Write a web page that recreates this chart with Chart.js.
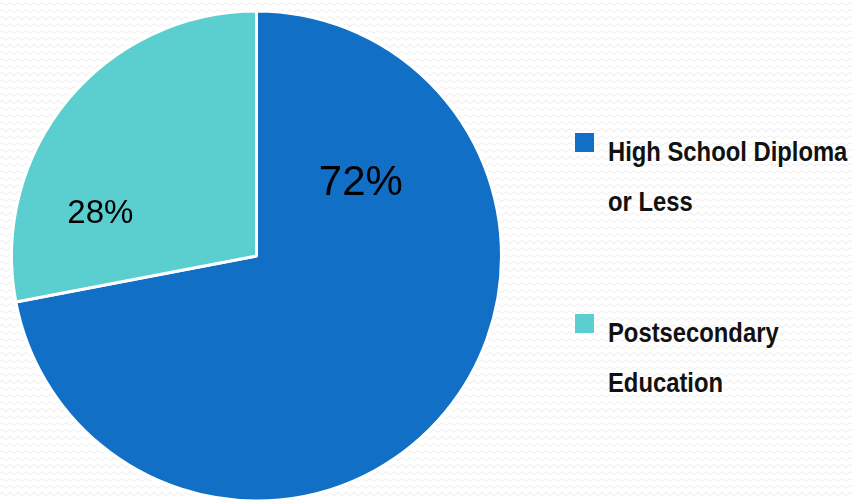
<!DOCTYPE html>
<html>
<head>
<meta charset="utf-8">
<script src="https://cdn.jsdelivr.net/npm/chart.js@4"></script>
<style>
    html, body {
        margin: 0;
        padding: 0;
        width: 852px;
        height: 500px;
        overflow: hidden;
        background-color: #ffffff;
        background-image: url("data:image/svg+xml;utf8,<svg xmlns='http://www.w3.org/2000/svg' width='8' height='7'><path d='M0 4 Q2 1 4 4 T8 4' fill='none' stroke='%23ececec' stroke-width='1'/></svg>");
    }
    .pie-wrap {
        position: absolute;
        left: 0;
        top: -1px;
        width: 513px;
        height: 514px;
    }
    .legend {
        position: absolute;
        left: 575px;
        top: 0;
        margin: 0;
        padding: 0;
        list-style: none;
        font-family: "Liberation Sans", Arial, sans-serif;
        font-weight: bold;
        font-size: 28px;
        line-height: 50px;
        color: #111111;
    }
    .legend li {
        position: absolute;
        white-space: nowrap;
    }
    .legend .box {
        position: absolute;
        left: 0;
        top: 6px;
        width: 19px;
        height: 19px;
    }
    .legend .text {
        position: absolute;
        left: 33px;
        top: 0;
        transform: scaleX(0.85);
        transform-origin: 0 0;
    }
</style>
</head>
<body>
<div class="pie-wrap"><canvas class="scores"></canvas></div>
<ul class="legend"></ul>
<script>
    // data
    let categories = [
        ['High School Diploma', 'or Less'],
        ['Postsecondary', 'Education']
    ];
    let shares = [72, 28];
    let colours = ['#116fc5', '#5bcfcf'];

    // where each percentage sits: angle (deg, clockwise from 3 o'clock), fraction of radius, font size
    let labelSpots = [
        { angle: -35, dist: 0.52, size: 42 },
        { angle: 195, dist: 0.66, size: 33 }
    ];
    let legendTops = [127, 308];

    let sliceLabels = {
        id: 'sliceLabels',
        afterDatasetsDraw(chart) {
            let ctx = chart.ctx;
            let meta = chart.getDatasetMeta(0);
            ctx.save();
            ctx.fillStyle = '#000000';
            ctx.textAlign = 'center';
            ctx.textBaseline = 'middle';
            meta.data.forEach(function (arc, i) {
                let spot = labelSpots[i];
                let a = spot.angle * Math.PI / 180;
                let r = arc.outerRadius * spot.dist;
                ctx.font = spot.size + 'px "Liberation Sans", Arial, sans-serif';
                ctx.fillText(shares[i] + '%', arc.x + Math.cos(a) * r, arc.y + Math.sin(a) * r);
            });
            ctx.restore();
        }
    };

    let htmlLegend = {
        id: 'htmlLegend',
        afterUpdate(chart) {
            let list = document.querySelector('.legend');
            list.innerHTML = '';
            chart.data.labels.forEach(function (label, i) {
                let li = document.createElement('li');
                li.style.top = legendTops[i] + 'px';
                let box = document.createElement('span');
                box.className = 'box';
                box.style.background = chart.data.datasets[0].backgroundColor[i];
                let text = document.createElement('span');
                text.className = 'text';
                text.innerHTML = label.join('<br>');
                li.appendChild(box);
                li.appendChild(text);
                list.appendChild(li);
            });
        }
    };

    let canvas = document.querySelector('.scores').getContext('2d');
    new Chart(canvas, {
        type: 'pie',
        data: {
            labels: categories,
            datasets: [{
                data: shares,
                backgroundColor: colours,
                borderColor: '#ffffff',
                borderWidth: 3
            }]
        },
        options: {
            responsive: true,
            maintainAspectRatio: false,
            animation: false,
            radius: 245,
            layout: { padding: 0 },
            plugins: {
                legend: { display: false },
                tooltip: { enabled: false }
            }
        },
        plugins: [sliceLabels, htmlLegend]
    });
</script>
</body>
</html>
